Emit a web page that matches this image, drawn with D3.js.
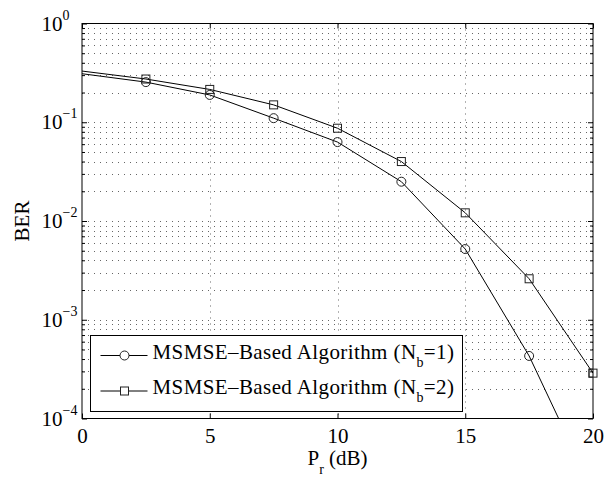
<!DOCTYPE html>
<html>
<head>
<meta charset="utf-8">
<script src="https://cdn.jsdelivr.net/npm/d3@7"></script>
<style>
  body { margin: 0; background: #fff; }
  svg text { font-family: 'Liberation Serif', 'DejaVu Serif', serif; }
</style>
</head>
<body>
<div id="chart"></div>
<script>
// received power (dB)
const snr = [0, 2.5, 5, 7.5, 10, 12.5, 15, 17.5, 20]
// BER for each scheme
const berNb1 = [0.31, 0.255, 0.189, 0.11, 0.063, 0.025, 0.0052, 0.00043, 0.0000183]
const berNb2 = [0.33, 0.274, 0.215, 0.15, 0.087, 0.040, 0.0121, 0.0026, 0.000288]
const xTicks = [0, 5, 10, 15, 20]
const yDecades = [0, -1, -2, -3, -4]
const legendNames = ['MSMSE\u2013Based Algorithm (N', 'MSMSE\u2013Based Algorithm (N']
const legendSubs = ['b', 'b']
const legendTails = ['=1)', '=2)']

const font = "'Liberation Serif', 'Times New Roman', serif"
const fontSize = 21
const width = 604
const height = 479
const margin = {top: 23.5, right: 11, bottom: 60.5, left: 82}

const svg = d3.select('#chart').append('svg')
  .attr('width', width)
  .attr('height', height)
  .attr('font-family', font)

const x = d3.scaleLinear()
  .domain([0, 20])
  .range([margin.left, width - margin.right])

const y = d3.scaleLog()
  .domain([1e-4, 1])
  .range([height - margin.bottom, margin.top])

// minor values 2..9 for each decade
const yMinor = []
for (let e = -4; e < 0; e++) {
  for (let k = 2; k <= 9; k++) yMinor.push(k * Math.pow(10, e))
}
const yMajor = yDecades.map(e => Math.pow(10, e))

// grid
const grid = svg.append('g')
  .attr('stroke', '#666')
  .attr('stroke-width', 1)
  .attr('stroke-dasharray', '1,5')
grid.selectAll('line.h')
  .data(yMajor.concat(yMinor).filter(v => v > 1e-4 && v < 1))
  .enter().append('line')
  .attr('class', 'h')
  .attr('x1', x(0)).attr('x2', x(20))
  .attr('y1', d => Math.round(y(d)) + 0.5)
  .attr('y2', d => Math.round(y(d)) + 0.5)
grid.selectAll('line.v')
  .data(xTicks.slice(1, -1))
  .enter().append('line')
  .attr('class', 'v')
  .attr('y1', y(1)).attr('y2', y(1e-4))
  .attr('x1', d => Math.round(x(d)) + 0.5)
  .attr('x2', d => Math.round(x(d)) + 0.5)

// axes with inward ticks on all four sides
const plotW = x(20) - x(0)
const plotH = y(1e-4) - y(1)

svg.append('g')
  .attr('transform', `translate(0, ${y(1e-4)})`)
  .call(d3.axisBottom(x).tickValues(xTicks).tickSize(-5).tickPadding(10).tickFormat(d3.format('d')))
  .call(g => g.select('.domain').remove())
  .call(g => g.attr('font-family', font).attr('font-size', fontSize))
  .call(g => g.selectAll('text').attr('fill', '#000'))
svg.append('g')
  .attr('transform', `translate(0, ${y(1)})`)
  .call(d3.axisTop(x).tickValues(xTicks).tickSize(-5).tickFormat(''))
  .call(g => g.select('.domain').remove())

svg.append('g')
  .attr('transform', `translate(${x(0)}, 0)`)
  .call(d3.axisLeft(y).tickValues(yMinor).tickSize(-3).tickFormat(''))
  .call(g => g.select('.domain').remove())
svg.append('g')
  .attr('transform', `translate(${x(20)}, 0)`)
  .call(d3.axisRight(y).tickValues(yMinor).tickSize(-3).tickFormat(''))
  .call(g => g.select('.domain').remove())
svg.append('g')
  .attr('transform', `translate(${x(20)}, 0)`)
  .call(d3.axisRight(y).tickValues(yMajor).tickSize(-5).tickFormat(''))
  .call(g => g.select('.domain').remove())

const yAxis = svg.append('g')
  .attr('transform', `translate(${x(0)}, 0)`)
  .call(d3.axisLeft(y).tickValues(yMajor).tickSize(-5).tickFormat(''))
  .call(g => g.select('.domain').remove())
  .call(g => g.attr('font-family', font))

// 10^e labels with superscripts, the "10" parts line up
yAxis.selectAll('.tick').each(function(d) {
  const e = Math.round(Math.log10(d))
  const t = d3.select(this).append('text')
    .attr('x', -40.5)
    .attr('y', 6.5)
    .attr('fill', '#000')
    .attr('text-anchor', 'start')
    .attr('font-size', fontSize)
  t.append('tspan').text('10')
  t.append('tspan')
    .attr('dy', -11)
    .attr('font-size', 14)
    .text(e < 0 ? '\u2212' + (-e) : e)
})

// frame
svg.append('rect')
  .attr('x', x(0))
  .attr('y', y(1))
  .attr('width', plotW)
  .attr('height', plotH)
  .attr('fill', 'none')
  .attr('stroke', '#000')

// axis titles
const xTitle = svg.append('text')
  .attr('x', x(10))
  .attr('y', 465)
  .attr('text-anchor', 'middle')
  .attr('font-size', fontSize)
xTitle.append('tspan').text('P')
xTitle.append('tspan').attr('dy', 9).attr('font-size', 14).text('r')
xTitle.append('tspan').attr('dy', -9).text(' (dB)')

svg.append('text')
  .attr('transform', `translate(29, ${(y(1) + y(1e-4)) / 2}) rotate(-90)`)
  .attr('text-anchor', 'middle')
  .attr('font-size', fontSize)
  .text('BER')

// series
svg.append('clipPath')
  .attr('id', 'plotClip')
  .append('rect')
  .attr('x', x(0)).attr('y', y(1))
  .attr('width', plotW).attr('height', plotH)

const series = [
  {values: berNb1, marker: 'circle'},
  {values: berNb2, marker: 'square'},
]
const line = d3.line()
  .x((d, i) => x(snr[i]))
  .y(d => y(d))

const plot = svg.append('g').attr('clip-path', 'url(#plotClip)')
for (const s of series) {
  plot.append('path')
    .datum(s.values)
    .attr('d', line)
    .attr('fill', 'none')
    .attr('stroke', '#000')
    .attr('stroke-width', 1)
  const pts = s.values.map((v, i) => ({x: snr[i], v: v})).filter(p => p.x > 0)
  if (s.marker === 'circle') {
    plot.selectAll(null)
      .data(pts)
      .enter().append('circle')
      .attr('cx', d => x(d.x))
      .attr('cy', d => y(d.v))
      .attr('r', 4.5)
      .attr('fill', 'none')
      .attr('stroke', '#222')
  } else {
    plot.selectAll(null)
      .data(pts)
      .enter().append('rect')
      .attr('x', d => x(d.x) - 4)
      .attr('y', d => y(d.v) - 4)
      .attr('width', 8)
      .attr('height', 8)
      .attr('fill', 'none')
      .attr('stroke', '#222')
  }
}
// the square at 20 dB sits on the right edge, draw it unclipped
svg.append('rect')
  .attr('x', x(20) - 4)
  .attr('y', y(berNb2[8]) - 4)
  .attr('width', 8)
  .attr('height', 8)
  .attr('fill', 'none')
  .attr('stroke', '#222')

// legend
const legend = svg.append('g')
  .attr('transform', 'translate(90.5, 335.5)')
legend.append('rect')
  .attr('width', 372)
  .attr('height', 76)
  .attr('fill', '#fff')
  .attr('stroke', '#000')
const rows = legend.selectAll('g.row')
  .data(series)
  .enter().append('g')
  .attr('class', 'row')
  .attr('transform', (d, i) => `translate(0, ${20 + i * 35.5})`)
rows.append('line')
  .attr('x1', 10).attr('x2', 57)
  .attr('stroke', '#000')
rows.each(function(d) {
  const g = d3.select(this)
  if (d.marker === 'circle') {
    g.append('circle').attr('cx', 34).attr('r', 4.5).attr('fill', '#fff').attr('stroke', '#222')
  } else {
    g.append('rect').attr('x', 30).attr('y', -4).attr('width', 8).attr('height', 8).attr('fill', '#fff').attr('stroke', '#222')
  }
})
const labels = rows.append('text')
  .attr('x', 62)
  .attr('y', 3)
  .attr('font-size', fontSize)
  .attr('letter-spacing', 0.4)
labels.append('tspan').text((d, i) => legendNames[i])
labels.append('tspan').attr('dy', 8).attr('font-size', 14).text((d, i) => legendSubs[i])
labels.append('tspan').attr('dy', -8).text((d, i) => legendTails[i])
</script>
</body>
</html>
